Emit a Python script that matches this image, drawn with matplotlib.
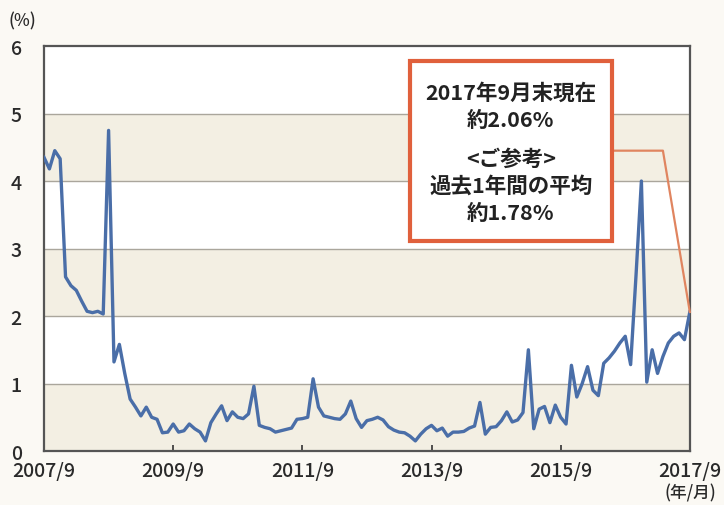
import matplotlib
matplotlib.use("Agg")
import matplotlib.pyplot as plt
from matplotlib.patches import Rectangle
import numpy as np

plt.rcParams['font.family'] = ['Noto Sans CJK JP', 'DejaVu Sans']

# Monthly values, 2007/9 .. 2017/9 (121 months)
values = [
    4.35, 4.18, 4.45, 4.33, 2.58, 2.45, 2.38, 2.22, 2.07, 2.05,
    2.07, 2.03, 4.75, 1.32, 1.58, 1.15, 0.77, 0.65, 0.52, 0.65,
    0.50, 0.47, 0.27, 0.28, 0.40, 0.28, 0.30, 0.40, 0.33, 0.28,
    0.15, 0.42, 0.55, 0.67, 0.45, 0.58, 0.50, 0.48, 0.55, 0.96,
    0.38, 0.35, 0.33, 0.28, 0.30, 0.32, 0.34, 0.47, 0.48, 0.50,
    1.07, 0.65, 0.52, 0.50, 0.48, 0.47, 0.55, 0.74, 0.48, 0.35,
    0.45, 0.47, 0.50, 0.46, 0.36, 0.31, 0.28, 0.27, 0.22, 0.15,
    0.25, 0.33, 0.38, 0.30, 0.34, 0.22, 0.28, 0.28, 0.29, 0.34,
    0.37, 0.72, 0.25, 0.35, 0.36, 0.45, 0.58, 0.43, 0.46, 0.57,
    1.50, 0.33, 0.62, 0.66, 0.42, 0.68, 0.50, 0.40, 1.27, 0.80,
    1.00, 1.25, 0.90, 0.82, 1.30, 1.38, 1.48, 1.60, 1.70, 1.28,
    2.60, 4.00, 1.02, 1.50, 1.15, 1.40, 1.60, 1.70, 1.75, 1.65,
    2.06,
]
tick_labels = ["2007/9", "2009/9", "2011/9", "2013/9", "2015/9", "2017/9"]
tick_months = [0, 24, 48, 72, 96, 120]
yticks = [0, 1, 2, 3, 4, 5, 6]
annot_lines = ["2017年9月末現在", "約2.06%", "<ご参考>", "過去1年間の平均", "約1.78%"]
connector_level = 4.45

months = np.arange(len(values))

fig = plt.figure(figsize=(7.24, 5.06), dpi=100)
fig.patch.set_facecolor('#fbf9f4')
ax = fig.add_axes([0.0608, 0.1067, 0.892, 0.8003])
ax.set_facecolor('white')

# alternating bands
for lo in [0, 2, 4]:
    ax.axhspan(lo, lo + 1, color='#f3efe3', zorder=0, lw=0)
for y in [1, 2, 3, 4, 5]:
    ax.axhline(y, color='#aaa69c', lw=1.0, zorder=1)

ax.plot(months, values, color='#4a6ea8', lw=2.4, zorder=3, solid_joinstyle='round')

ax.set_xlim(0, 120)
ax.set_ylim(0, 6)
ax.set_xticks(tick_months)
ax.set_xticklabels(tick_labels)
ax.set_yticks(yticks)
ax.set_yticklabels([str(v) for v in yticks])
ax.tick_params(axis='x', direction='in', length=4, width=1.2, color='#333333',
               labelsize=14, labelcolor='#2a2a2a', pad=7)
ax.tick_params(axis='y', length=0, labelsize=14, labelcolor='#2a2a2a', pad=16)
for lab in ax.get_xticklabels() + ax.get_yticklabels():
    lab.set_fontweight('medium')
for s in ax.spines.values():
    s.set_color('#555555')
    s.set_linewidth(1.6)

# connector from box to final value
box_x0, box_x1 = (410 - 44) / 646, (612 - 44) / 646
box_y0, box_y1 = (452 - 242) / 405, (452 - 62) / 405
ax.plot([box_x1 * 120, 115, 120], [connector_level, connector_level, values[-1]],
        color='#e08560', lw=1.6, zorder=4, clip_on=False)

ax.add_patch(Rectangle((box_x0, box_y0), box_x1 - box_x0, box_y1 - box_y0,
                       transform=ax.transAxes, facecolor='white',
                       edgecolor='#e0603c', lw=3, zorder=5))
cx = (box_x0 + box_x1) / 2
ys_px = [93, 120, 159, 186, 213]
for txt, ypx in zip(annot_lines, ys_px):
    ax.text(cx, (452 - ypx) / 405, txt, transform=ax.transAxes, ha='center',
            va='center', fontsize=15.5, color='#222222', fontweight='bold', zorder=6)

fig.text(22 / 724, 1 - 21 / 506, "(%)", ha='center', va='center', fontsize=12,
         color='#2a2a2a', fontweight='medium')
fig.text(690 / 724, 1 - 493 / 506, "(年/月)", ha='center', va='center', fontsize=12,
         color='#2a2a2a', fontweight='medium')

fig.savefig('out.png', dpi=100, facecolor=fig.get_facecolor())
